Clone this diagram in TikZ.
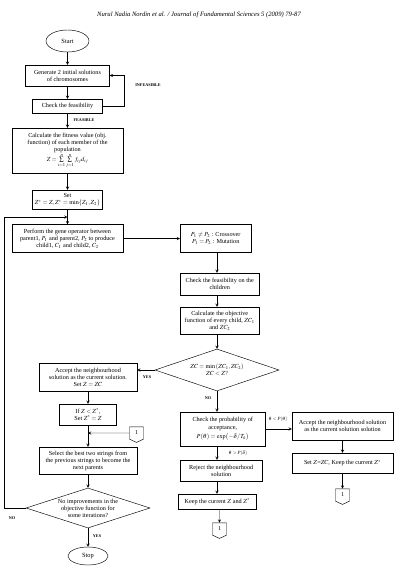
\documentclass[tikz,border=0pt]{standalone}
\usepackage{amsmath}
\usepackage{mathptmx}
\usepackage{fontspec}
\setmainfont{Liberation Serif}
\usetikzlibrary{shapes.geometric,shapes.symbols}
\tikzset{
  blk/.style={draw,rectangle,align=center,inner sep=1pt,font=\fontsize{6.2}{7}\selectfont},
  dec/.style={draw,diamond,aspect=3,inner sep=0pt,align=center,font=\fontsize{6.2}{7}\selectfont},
  term/.style={draw,ellipse,inner sep=0pt,font=\fontsize{6.4}{7}\selectfont},
  onepage/.style={draw,signal,signal to=south,signal pointer angle=130,inner sep=0pt,minimum width=14,minimum height=13,font=\fontsize{6}{7}\selectfont},
  tag/.style={inner sep=0pt,font=\fontsize{4.2}{5}\bfseries\selectfont},
  lbl/.style={inner sep=0pt,font=\fontsize{4.8}{5}\selectfont},
  arr/.style={->,>=stealth,line width=0.45pt},
}

\begin{document}
\begin{tikzpicture}[x=1pt,y=-1pt,line width=0.45pt]
            \useasboundingbox (0,0) rectangle (404,567);
            \node[font=\fontsize{6.6}{7}\itshape\selectfont] (hdr) at (199,15) {Nurul Nadia Nordin et al. / Journal of Fundamental Sciences 5 (2009) 79-87};
            \node[term,minimum width=43,minimum height=22] (start) at (67.5,41) {Start};
            \node[blk,minimum width=84,minimum height=21] (gen) at (67.5,75.5) {Generate 2 initial solutions\\of chromosomes};
            \node[blk,minimum width=70,minimum height=14] (chk) at (67.5,106) {Check the feasibility};
            \node[blk,minimum width=111,minimum height=45] (fit) at (67.5,150.5) {Calculate the fitness value (obj.\\function) of each member of the\\population\\$Z=\sum\limits_{i=1}^{n}\sum\limits_{j=1}^{n}f_{ij}d_{ij}$};
            \node[blk,minimum width=70,minimum height=19] (set) at (67.5,199.5) {Set\\$Z^*=Z,Z^*=\min\{Z_1,Z_2\}$};
            \node[blk,minimum width=111,minimum height=28] (perf) at (67.5,238.5) {Perform the gene operator between\\parent1, $P_1$ and parent2, $P_2$ to produce\\child1, $C_1$ and child2, $C_2$};
            \node[blk,anchor=west,minimum width=71,minimum height=28] (cross) at (180,238.5) {$P_1\neq P_2$ : Crossover\\$P_1=P_2$ : Mutation};
            \node[blk,anchor=west,minimum width=79,minimum height=22] (chkc) at (180,284) {Check the feasibility on the\\children};
            \node[blk,anchor=west,minimum width=79,minimum height=27] (obj) at (180,320.5) {Calculate the objective\\function of every child, $ZC_1$\\and $ZC_2$};
            \node[dec,minimum width=124,minimum height=42] (dia1) at (217,370) {$ZC=\min\,(ZC_1,ZC_2)$\\$ZC<Z?$};
            \node[blk,minimum width=98,minimum height=28] (acc) at (88,377) {Accept the neighbourhood\\solution as the current solution.\\Set $Z=ZC$};
            \node[blk,minimum width=57,minimum height=21] (ifz) at (88,414.5) {If $Z<Z^*$,\\Set $Z^*=Z$};
            \node[onepage] (con1) at (136.5,433) {1};
            \node[blk,minimum width=98,minimum height=27] (sel) at (88,460.5) {Select the best two strings from\\the previous strings to become the\\next parents};
            \node[dec,minimum width=124,minimum height=40] (dia2) at (88,508) {No improvements in the\\objective function for\\some iterations?};
            \node[term,minimum width=40,minimum height=18] (stop) at (88,556) {Stop};
            \node[blk,anchor=west,minimum width=85,minimum height=34,font=\fontsize{6.2}{8}\selectfont] (prob) at (180,429) {Check the probability of\\acceptance,\\[1pt]$P(\theta)=\exp\bigl(-\delta/T_k\bigr)$};
            \node[blk,minimum width=101,minimum height=28] (accr) at (342.5,426) {Accept the neighbourhood solution\\as the current solution solution};
            \node[blk,minimum width=101,minimum height=20] (setr) at (342.5,463) {Set $Z$=$ZC$, Keep the current $Z^*$};
            \node[onepage] (con2) at (342.5,495) {1};
            \node[blk,anchor=west,minimum width=82,minimum height=21] (rej) at (180,470.5) {Reject the neighbourhood\\solution};
            \node[blk,anchor=west,minimum width=78,minimum height=15] (keep) at (178,501.5) {Keep the current $Z$ and $Z^*$};
            \node[onepage] (con3) at (219.5,529) {1};
            \node[tag] (infeas) at (148,85) {INFEASIBLE};
            \node[tag] (feas) at (84,120) {FEASIBLE};
            \node[tag] (yes1) at (147,377) {YES};
            \node[tag] (no1) at (208,398) {NO};
            \node[lbl] (lt) at (278,419) {$\theta<P(\theta)$};
            \node[lbl] (gt) at (238,453) {$\theta>P(\delta)$};
            \node[tag] (no2) at (12,518) {NO};
            \node[tag] (yes2) at (97,536) {YES};
            \coordinate (loopin) at (67.5,217);
            \draw[arr] (start) -- (gen);
            \draw[arr] (gen) -- (chk);
            \draw[arr] (chk) -- (fit);
            \draw[arr] (chk.east) -- ++(21,0) |- (gen.east);
            \draw[arr] (fit) -- (set);
            \draw[arr] (set) -- (perf);
            \draw[arr] (perf) -- (cross);
            \draw[arr] (cross.south -| dia1) -- (chkc.north -| dia1);
            \draw[arr] (chkc.south -| dia1) -- (obj.north -| dia1);
            \draw[arr] (obj.south -| dia1) -- (dia1);
            \draw[arr] (dia1.west) -- (dia1.west -| acc.east);
            \draw[arr] (dia1.south) -- (prob.north -| dia1);
            \draw[arr] (prob.east) -- (accr.west |- prob.east);
            \draw[arr] (prob.south -| dia1) -- (rej.north -| dia1);
            \draw[arr] (rej.south -| dia1) -- (keep.north -| dia1);
            \draw[arr] (keep.south -| con3) -- (con3);
            \draw[arr] (accr) -- (setr);
            \draw[arr] (setr) -- (con2);
            \draw[arr] (acc) -- (ifz);
            \draw[arr] (ifz) -- (sel);
            \draw[arr] (con1) -- (con1 -| sel);
            \draw[arr] (sel) -- (dia2);
            \draw[arr] (dia2) -- (stop);
            \draw[arr] (dia2.west) -- ++(-22,0) |- (loopin);
        \end{tikzpicture}
\end{document}
